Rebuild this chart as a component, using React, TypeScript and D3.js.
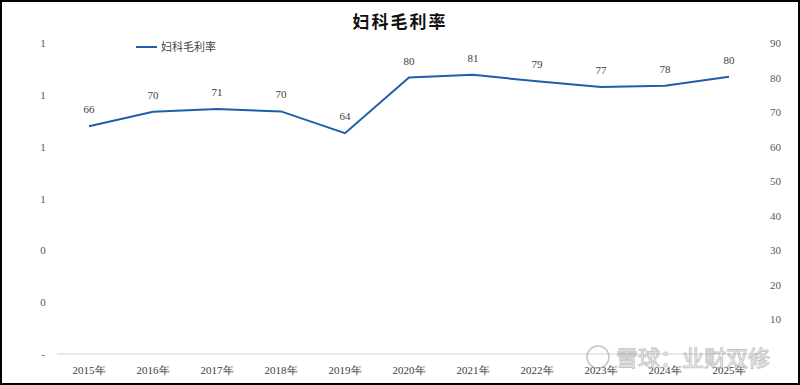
import React, { useEffect, useRef } from 'react';
import * as d3 from 'd3';

// 妇科毛利率 data
const years = ['2015年', '2016年', '2017年', '2018年', '2019年', '2020年', '2021年', '2022年', '2023年', '2024年', '2025年'];
const margins = [65.9, 70.1, 70.9, 70.2, 63.9, 80.0, 80.8, 78.9, 77.3, 77.6, 80.2];
const rightTicks = [10, 20, 30, 40, 50, 60, 70, 80, 90];
const leftTickLabels = ['-', '0', '0', '1', '1', '1', '1'];

const W = 800;
const H = 385;

const App = () => {
  const ref = useRef<SVGSVGElement | null>(null);

  useEffect(() => {
    document.body.style.margin = '0';
    if (!ref.current) return;
    const svg = d3.select(ref.current);
    svg.selectAll('*').remove();

    const serif = '"Liberation Serif", "DejaVu Serif", serif';
    const cjk = '"Noto Sans CJK SC", sans-serif';

    svg.append('rect')
      .attr('x', 1).attr('y', 1)
      .attr('width', W - 2).attr('height', H - 2)
      .attr('fill', '#fff')
      .attr('stroke', '#000')
      .attr('stroke-width', 2);

    const x = d3.scaleBand().domain(years).range([57, 761]);
    const y = d3.scaleLinear().domain([0, 90]).range([354, 43]);
    const yLeft = d3.scaleLinear().domain([0, leftTickLabels.length - 1]).range([354, 43]);

    // title
    svg.append('text')
      .attr('x', 400).attr('y', 28)
      .attr('text-anchor', 'middle')
      .style('font-family', cjk)
      .style('font-size', '17px')
      .style('font-weight', 'bold')
      .style('letter-spacing', '2px')
      .attr('fill', '#111')
      .text('妇科毛利率');

    // legend
    svg.append('line')
      .attr('x1', 136).attr('x2', 157)
      .attr('y1', 47).attr('y2', 47)
      .attr('stroke', '#1f5faa').attr('stroke-width', 2);
    svg.append('text')
      .attr('x', 161).attr('y', 51)
      .style('font-family', cjk)
      .style('font-size', '11px')
      .attr('fill', '#444')
      .text('妇科毛利率');

    // baseline
    svg.append('line')
      .attr('x1', 57).attr('x2', 761)
      .attr('y1', y(0)).attr('y2', y(0))
      .attr('stroke', '#d0d0d0').attr('stroke-width', 1);

    // left axis labels
    svg.selectAll('text.lt')
      .data(leftTickLabels)
      .enter()
      .append('text')
      .attr('class', 'lt')
      .attr('x', 43)
      .attr('y', (_, i) => yLeft(i) + 4)
      .attr('text-anchor', 'middle')
      .style('font-family', serif)
      .style('font-size', '11px')
      .attr('fill', '#595959')
      .text(d => d);

    // right axis labels
    svg.selectAll('text.rt')
      .data(rightTicks)
      .enter()
      .append('text')
      .attr('class', 'rt')
      .attr('x', 770)
      .attr('y', d => y(d) + 4)
      .style('font-family', serif)
      .style('font-size', '11px')
      .attr('fill', '#595959')
      .text(d => d);

    // x labels
    svg.selectAll('text.xl')
      .data(years)
      .enter()
      .append('text')
      .attr('class', 'xl')
      .attr('x', d => (x(d) as number) + x.bandwidth() / 2)
      .attr('y', 374)
      .attr('text-anchor', 'middle')
      .style('font-family', serif)
      .style('font-size', '11px')
      .attr('fill', '#404040')
      .text(d => d);

    const line = d3.line<number>()
      .x((_, i) => (x(years[i]) as number) + x.bandwidth() / 2)
      .y(d => y(d));

    svg.append('path')
      .datum(margins)
      .attr('d', line)
      .attr('fill', 'none')
      .attr('stroke', '#1f5faa')
      .attr('stroke-width', 2);

    // data labels
    svg.selectAll('text.dl')
      .data(margins)
      .enter()
      .append('text')
      .attr('class', 'dl')
      .attr('x', (_, i) => (x(years[i]) as number) + x.bandwidth() / 2)
      .attr('y', d => y(d) - 13)
      .attr('text-anchor', 'middle')
      .style('font-family', serif)
      .style('font-size', '11px')
      .attr('fill', '#404040')
      .text(d => Math.round(d));

    // watermark
    const wm = svg.append('g').attr('opacity', 0.55);
    wm.append('circle')
      .attr('cx', 598).attr('cy', 357).attr('r', 11)
      .attr('fill', 'none').attr('stroke', '#999').attr('stroke-width', 1.5);
    wm.append('text')
      .attr('x', 616).attr('y', 366)
      .style('font-family', cjk)
      .style('font-size', '22px')
      .attr('fill', '#fff')
      .attr('stroke', '#999')
      .attr('stroke-width', 1)
      .text('雪球：业财双修');
  }, []);

  return <svg ref={ref} width={W} height={H} style={{ display: 'block' }} />;
};

export default App;
